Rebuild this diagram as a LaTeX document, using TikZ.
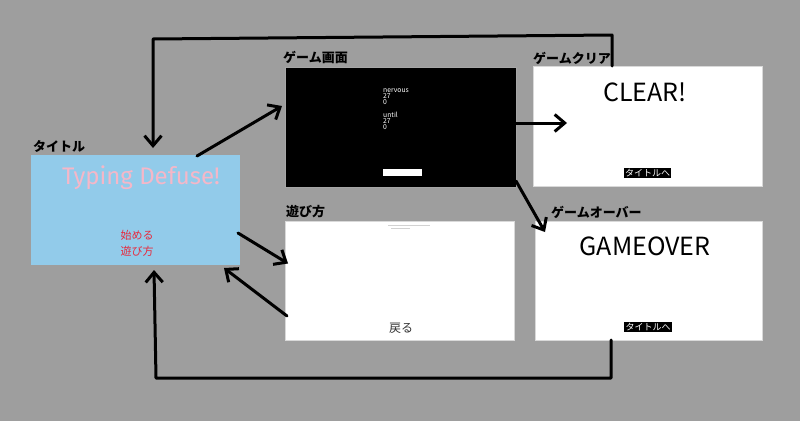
\documentclass[tikz,border=0pt]{standalone}
\usepackage{fontspec}
\setmainfont{Noto Sans CJK JP}
\newfontfamily\titlefont{Fira Sans}
\usetikzlibrary{arrows.meta,calc}
\definecolor{bg}{HTML}{9E9E9E}
\definecolor{titleblue}{HTML}{92CBEA}
\definecolor{titlepink}{HTML}{F5B7C8}
\definecolor{menured}{HTML}{E8283C}
\begin{document}
\begin{tikzpicture}[x=1pt,y=-1pt,
  screen/.style={rectangle,inner sep=0pt,outer sep=0pt},
  lbl/.style={inner sep=0pt,anchor=base west,font=\bfseries\fontsize{13}{13}\selectfont},
  btn/.style={fill=black,text=white,inner xsep=1.2pt,inner ysep=1pt,font=\fontsize{9}{9}\selectfont},
  arr/.style={line width=3pt,line cap=round,line join=round,-{Straight Barb[length=10pt,width=17pt]}},
  loopline/.style={line width=3pt,line cap=round,line join=round}]
\useasboundingbox[fill=bg] (0,0) rectangle (800,421);

% screens
\node[screen,fill=titleblue,minimum width=209pt,minimum height=110pt] (title) at (135.5,210) {};
\node[screen,fill=black,draw=gray!70,line width=0.6pt,minimum width=231pt,minimum height=120pt] (game) at (400.5,127) {};
\node[screen,fill=white,draw=gray!30,line width=0.6pt,minimum width=229pt,minimum height=120pt] (clear) at (647.5,126) {};
\node[screen,fill=white,draw=gray!30,line width=0.6pt,minimum width=229pt,minimum height=119pt] (howto) at (399.5,280.5) {};
\node[screen,fill=white,draw=gray!30,line width=0.6pt,minimum width=227pt,minimum height=119pt] (over) at (648.5,280.5) {};

% labels
\node[lbl] (ltitle) at (33,151) {タイトル};
\node[lbl] (lgame) at (283,62) {ゲーム画面};
\node[lbl] (lclear) at (533,63) {ゲームクリア};
\node[lbl] (lhowto) at (286,216) {遊び方};
\node[lbl] (lover) at (551,217) {ゲームオーバー};

% title screen contents
\node[anchor=base,inner sep=0pt,text=titlepink,font=\titlefont\fontsize{24}{24}\selectfont] (tname) at (141,184) {Typing Defuse!};
\node[anchor=base,inner sep=0pt,text=menured,font=\fontsize{11}{11}\selectfont] (start) at (137,239) {始める};
\node[anchor=base,inner sep=0pt,text=menured,font=\fontsize{11}{11}\selectfont] (rules) at (137,255) {遊び方};

% game screen contents
\node[anchor=north west,inner sep=0pt,text=white,align=left,font=\fontsize{6.8}{6.2}\selectfont] (words) at (383,88.5) {nervous\\27\\0\\[6.2pt]until\\27\\0};
\node[screen,fill=white,minimum width=39pt,minimum height=7pt] (input) at (402.5,172.5) {};

% clear screen
\node[anchor=base,inner sep=0pt,font=\fontsize{25}{25}\selectfont] (cleartext) at (645,101) {CLEAR!};
\node[btn] (clearbtn) at (647.5,173) {タイトルへ};

% gameover screen
\node[anchor=base,inner sep=0pt,font=\fontsize{25}{25}\selectfont] (overtext) at (645,255) {GAMEOVER};
\node[btn] (overbtn) at (648,327) {タイトルへ};

% how-to screen (illegible fine print)
\fill[gray!35] (388,225.4) rectangle (430,226.4);
\fill[gray!35] (391,228.4) rectangle (410,229.3);
\node[anchor=base,inner sep=0pt,text=black!80,font=\fontsize{12}{12}\selectfont] (back) at (401,332) {戻る};

% arrows
\draw[arr] ($(title.north west)+(166,1)$) -- ($(game.west)+(-3,-21)$);
\draw[arr] ($(game.east)+(0,-4)$) -- ($(clear.west)+(34,-3)$);
\draw[arr] ($(game.south east)+(0,-6)$) -- ($(over.north west)+(10,11)$);
\draw[arr] ($(title.east)+(-2,23)$) -- ($(howto.west)+(3,-17)$);
\draw[arr] ($(howto.west)+(2,35.5)$) -- ($(title.south east)+(-16,3)$);

% loops
\coordinate (tr) at (612,35);
\coordinate (tl) at (153,39);
\draw[arr] ($(clear.north west)+(79,0)$) -- (tr) -- (tl) -- ($(title.north west)+(122,-7)$);
\coordinate (br) at (611,378);
\coordinate (bl) at (156,378);
\draw[arr] ($(over.south west)+(76,0)$) -- (br) -- (bl) -- ($(title.south west)+(123,5)$);
\end{tikzpicture}
\end{document}
